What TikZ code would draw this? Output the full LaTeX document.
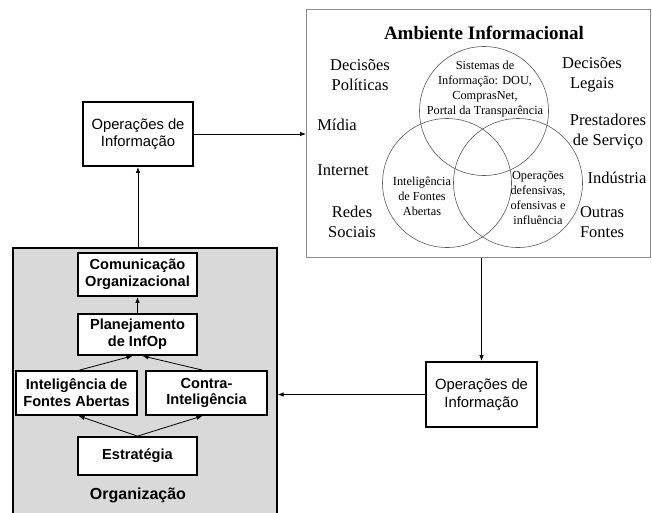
\documentclass[tikz,border=0pt]{standalone}
\usepackage{fontspec}
\setmainfont{Liberation Serif}
\setsansfont{Liberation Sans}
\usetikzlibrary{arrows.meta}
\definecolor{orggray}{HTML}{D9D9D9}
\begin{document}
\begin{tikzpicture}[x=1pt,y=-1pt,
  box/.style={draw=black, line width=1.8pt, fill=white, align=center,
    font=\sffamily\fontsize{14.8}{17.5}\selectfont, inner sep=0pt},
  orgbox/.style={box, font=\sffamily\bfseries\fontsize{14.6}{16.8}\selectfont},
  word/.style={align=center, font=\fontsize{16.5}{20}\selectfont},
  small/.style={align=center, font=\fontsize{12.3}{15}\selectfont},
  venn/.style={circle, draw=black!65, line width=0.6pt, minimum size=129pt, inner sep=0pt},
  arr/.style={-{Latex[length=6pt,width=4.5pt]}, line width=0.8pt}
]
\useasboundingbox (0,0) rectangle (652,512);
\clip (0,0) rectangle (652,512);

% information environment
\node[draw=black!45, line width=0.8pt, minimum width=344pt, minimum height=248pt,
      anchor=north west, inner sep=0pt] (amb) at (306,9) {};
\node[font=\bfseries\fontsize{19}{22}\selectfont] (title) at (484,33) {Ambiente Informacional};

\node[venn] (vtop) at (484,111) {};
\node[venn] (vleft) at (447,183) {};
\node[venn] (vright) at (518,183) {};

\node[small] (tsis) at (485,89) {Sistemas de\\Informação: DOU,\\ComprasNet,\\Portal da Transparência};
\node[small] (tint) at (422,196) {Inteligência\\de Fontes\\Abertas};
\node[small] (tops) at (538,198) {Operações\\defensivas,\\ofensivas e\\influência};

\node[word] (wdp) at (360,75) {Decisões\\Políticas};
\node[word] (wdl) at (592,75) {Decisões\\Legais};
\node[word] (wmid) at (337,125) {Mídia};
\node[word] (wps) at (608,132) {Prestadores\\de Serviço};
\node[word] (wint) at (343,170) {Internet};
\node[word] (wind) at (617,178) {Indústria};
\node[word] (wrs) at (352,222) {Redes\\Sociais};
\node[word] (wof) at (602,222) {Outras\\Fontes};

% information operations boxes
\node[box, minimum width=110pt, minimum height=64pt] (opsA) at (138,134) {Operações de\\Informação};
\node[box, minimum width=111pt, minimum height=65pt] (opsB) at (481.5,394.5) {Operações de\\Informação};

% organization
\node[draw=black, line width=1.6pt, fill=orggray, minimum width=264pt, minimum height=275pt,
      anchor=north west, inner sep=0pt] (org) at (12,247) {};
\node[font=\sffamily\bfseries\fontsize{16}{19}\selectfont] (orglabel) at (138,495) {Organização};

\node[orgbox, minimum width=119pt, minimum height=43pt] (com) at (137.5,274.5) {Comunicação\\Organizacional};
\node[orgbox, minimum width=119pt, minimum height=41pt] (plan) at (137.5,334.5) {Planejamento\\de InfOp};
\node[orgbox, minimum width=121pt, minimum height=44pt] (ifa) at (76.5,393) {Inteligência de\\Fontes Abertas};
\node[orgbox, minimum width=121pt, minimum height=44pt] (ci) at (206.5,393) {Contra-\\Inteligência};
\node[orgbox, minimum width=119pt, minimum height=38pt] (est) at (137.5,456) {Estratégia};

% connectors inside the organization
\draw[arr] (plan.north) -- (com.south);
\draw[arr] ([xshift=3pt]ifa.north) -- ([xshift=-5pt]plan.south);
\draw[arr] ([xshift=-4pt]ci.north) -- ([xshift=5pt]plan.south);
\draw[arr] (est.north) -- ([xshift=2pt]ifa.south);
\draw[arr] (est.north) -- ([xshift=-4pt]ci.south);

% connectors between blocks
\draw[arr] (org.north -| opsA) -- (opsA.south);
\draw[arr] (opsA.east) -- (amb.west |- opsA);
\draw[arr] (amb.south -| opsB) -- (opsB.north);
\draw[arr] (opsB.west) -- (org.east |- opsB);
\end{tikzpicture}
\end{document}
